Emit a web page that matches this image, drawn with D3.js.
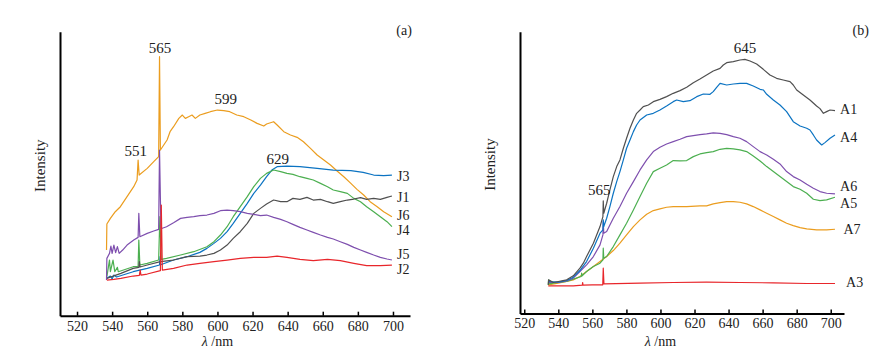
<!DOCTYPE html>
<html><head><meta charset="utf-8">
<script src="https://cdn.jsdelivr.net/npm/d3@7"></script>
<style>
html,body{margin:0;padding:0;background:#fff;}
svg{display:block;font-family:"Liberation Serif","Times New Roman",serif;}
</style></head>
<body>
<svg id="chart" width="887" height="362"></svg>
<script>
// ---------- DATA (wavelength nm, relative intensity) ----------
const xTicks = [520, 540, 560, 580, 600, 620, 640, 660, 680, 700];

// Panel (a)
const J6 = [[536.8,19.7],[537,27.5],[539,29.2],[541.8,31.2],[544.7,32.7],[548.5,35.7],[552.3,38.7],[554.2,40.7],[554.8,46.7],[555.4,42.2],[560,44.2],[563.7,46.2],[566.5,47.7],[567,77.7],[567.5,49.7],[571.3,52.7],[573,55.2],[575,56.7],[578,59.2],[580,60.2],[581.7,59.2],[583.6,59.7],[585.5,60.2],[587.4,59.2],[590,60.2],[593,60.7],[596,61.2],[600,61.7],[603.6,61.5],[607,61.2],[611,60.2],[615,59.7],[619,58.7],[622.6,57.7],[626.4,56.9],[628,57.5],[632,58.2],[634,57.2],[637.8,55.2],[641.6,54.2],[645.4,53.5],[649,52.2],[653,50.2],[656.8,48.2],[660.6,46.7],[664.4,45.2],[668,43.5],[672,41.7],[676,39.7],[679.5,37.9],[683.3,36.2],[687,34.2],[691,32.7],[694.7,31.2],[699.4,29.7]];
const J3 = [[537,11.2],[539,11.9],[540,11.0],[541,12.2],[542.5,11.6],[552,13.2],[560,14.2],[567,15.2],[567.3,17.7],[567.7,15.3],[575,16.7],[582.7,17.7],[590,19.0],[594,20.2],[598,21.7],[601.7,23.2],[605.5,25.2],[609,27.7],[613,30.7],[617,33.7],[620.7,36.7],[624.5,39.2],[628,41.7],[631,43.7],[634,44.7],[639.6,44.9],[647,44.7],[656.8,44.2],[666,43.7],[676,43.5],[683,43.0],[689,42.2],[694.7,42.0],[699.4,42.2]];
const J4 = [[537,11.7],[538.5,16.7],[539,13.2],[540.5,16.7],[541.5,13.2],[543,14.5],[543.5,13.2],[552,14.7],[554.8,14.7],[555.2,22.7],[555.8,15.2],[560,15.7],[566.5,16.7],[567.2,29.7],[568,16.9],[571,17.2],[579,18.2],[586.5,19.2],[594,20.7],[598,22.2],[601.7,24.2],[605.5,26.7],[609,29.7],[613,32.7],[617,35.7],[620.7,38.7],[624.5,41.2],[628,42.7],[632,43.7],[636,43.2],[639.6,42.7],[643,42.4],[647,41.7],[651,41.2],[654.6,40.7],[658.7,39.7],[662.7,38.7],[666,37.7],[670,37.2],[674,36.7],[677.7,35.2],[681.5,34.2],[685,32.7],[689,31.2],[692.8,29.7],[696.6,28.2],[699.4,26.7]];
const J1 = [[537,11.2],[545,12.7],[552,14.2],[555.2,14.5],[555.5,16.2],[555.9,14.6],[560,15.2],[567.5,16.2],[575,16.7],[582.7,17.7],[590,17.9],[594,18.2],[598,18.7],[601.7,19.7],[605.5,21.2],[609,23.2],[613,25.2],[617,27.7],[620.7,30.7],[624.5,32.2],[628,33.5],[632,34.7],[636,34.2],[639.6,34.2],[643,35.2],[647,34.9],[651,35.5],[654.6,34.7],[658.7,34.9],[662.7,34.2],[666,33.7],[670,34.2],[674,34.7],[677.7,35.0],[681.5,35.4],[685,34.9],[689,35.2],[692.8,34.9],[696.6,35.5],[699.4,35.9]];
const J5 = [[536.8,10.7],[537,17.2],[538.5,18.7],[539.3,20.9],[540,18.7],[541,21.2],[542,18.9],[543,20.7],[544,18.7],[546,19.7],[548.5,21.2],[552.3,22.7],[554.8,23.5],[555.2,30.7],[555.8,23.7],[560,24.7],[563.7,25.4],[566.5,25.9],[567,49.7],[567.8,26.1],[571,26.7],[575,27.9],[579,29.2],[582.7,29.5],[586.5,29.7],[590,30.0],[594,30.2],[598,30.7],[601.7,31.5],[605.5,31.7],[609,31.5],[613,31.2],[617,30.7],[620.7,30.4],[624.5,30.0],[628,30.2],[632,29.5],[636,28.9],[639.6,28.2],[643,27.4],[647,26.5],[651,25.7],[654.6,25.0],[658.7,24.2],[662.7,23.5],[666,23.0],[670,22.2],[674,21.4],[677.7,20.5],[681.5,19.7],[685,19.0],[689,18.2],[692.8,17.5],[696.6,17.0],[699.4,16.7]];
const J2 = [[537,10.7],[541,10.9],[545,11.2],[552,11.9],[555.5,12.1],[556,13.7],[556.4,12.2],[560,12.5],[567.5,13.5],[568,33.2],[568.6,13.7],[575,14.2],[582.7,15.2],[590,15.7],[598,16.2],[605.5,16.7],[613,17.2],[620.7,17.5],[628,17.5],[634,17.9],[639.6,17.5],[647,16.9],[654.6,16.5],[662.7,16.9],[670,16.5],[677.7,15.7],[685,15.0],[692.8,15.0],[699.4,15.2]];

// Panel (b)
const A1 = [[534.1,8.6],[534.3,10.1],[537.1,9.3],[540,9.6],[544.9,10.1],[548.8,11.3],[552.7,13.6],[554.7,15.1],[556.6,17.1],[560.6,21.1],[564.5,26.1],[566.2,29.1],[566.4,33.8],[566.7,30.1],[568.4,33.1],[570.3,37.1],[572.3,41.1],[574.3,44.1],[576.2,46.1],[578.2,49.6],[580.1,52.6],[582.1,55.6],[584.1,58.1],[586,60.1],[588,61.1],[589.9,62.1],[592.9,62.6],[595.8,63.6],[599.7,64.3],[603.6,65.1],[607.5,66.1],[611.5,66.9],[615.4,67.9],[619.3,69.3],[623.2,70.4],[627.1,71.6],[631,72.8],[635,73.6],[636.9,74.6],[638.9,75.3],[642.8,75.6],[646.7,76.1],[649.6,76.3],[652.6,75.8],[656.5,74.9],[660.4,73.3],[664.3,71.6],[668.2,70.6],[672.1,70.1],[676.1,69.6],[678,68.6],[680,67.1],[683.9,65.6],[687.8,64.1],[691.7,62.3],[693.7,61.5],[695.7,60.1],[697.6,60.6],[699.6,61.1],[702.5,60.9]];
const A4 = [[534.1,9.6],[540,9.4],[544.9,9.9],[548.8,10.9],[552.7,12.9],[556.6,15.6],[560.6,19.6],[564.5,24.1],[566.2,25.1],[566.4,28.1],[566.7,26.1],[568.4,28.6],[570.3,32.1],[572.3,36.1],[574.3,39.6],[576.2,42.6],[578.2,46.1],[580.1,49.6],[582.1,52.1],[584.1,54.6],[586,56.6],[588,58.1],[591.9,59.6],[595.8,60.1],[599.7,61.1],[603.6,62.3],[607.5,63.6],[609.5,64.1],[613.4,63.6],[617.3,63.9],[621.3,65.1],[625.2,65.9],[629.1,65.8],[631,66.6],[633,67.9],[635,69.1],[638.9,68.6],[642.8,68.9],[646.7,69.1],[650.6,69.1],[654.5,68.3],[658.5,67.3],[660.4,67.1],[662.4,65.8],[666.3,64.1],[670.2,62.6],[674.1,60.6],[678,57.6],[682,56.3],[685.9,55.6],[687.8,55.1],[689.8,53.6],[691.7,52.1],[694.7,50.6],[696.6,51.3],[699.6,52.6],[702.5,53.6]];
const A6 = [[534.1,9.3],[540,9.3],[544.9,9.8],[548.8,10.6],[552.7,12.6],[556.6,14.6],[560.6,17.1],[564.5,20.6],[566.2,23.6],[566.4,27.6],[566.7,24.1],[568.4,24.6],[570.3,26.6],[572.3,28.6],[576.2,32.1],[580.1,36.1],[584.1,39.6],[588,43.1],[591.9,46.1],[595.8,48.6],[599.7,49.9],[603.6,50.9],[607.5,51.6],[611.5,52.3],[615.4,53.1],[619.3,53.4],[623.2,53.7],[627.1,53.9],[631,54.2],[635,54.1],[638.9,53.7],[642.8,53.1],[646.7,52.6],[650.6,51.6],[654.5,50.1],[658.5,48.6],[662.4,47.6],[666.3,46.3],[670.2,44.9],[674.1,42.6],[678,41.1],[682,40.1],[685.9,38.8],[689.8,37.6],[693.7,36.6],[697.6,36.1],[702.5,35.9]];
const A5 = [[534.1,8.6],[534.3,10.1],[535,8.9],[537.1,9.1],[540,9.3],[544.9,9.6],[548.8,10.3],[553.5,11.1],[553.7,12.1],[554,11.3],[556.6,12.6],[560.6,14.1],[564.5,15.1],[566.2,16.1],[566.4,19.6],[566.7,16.6],[568.4,17.1],[572.3,20.1],[576.2,23.6],[580.1,27.1],[584.1,31.1],[588,35.1],[591.9,39.1],[595.8,42.6],[599.7,43.6],[603.6,44.6],[607.5,45.9],[611.5,45.8],[615.4,45.9],[619.3,47.1],[623.2,47.9],[627.1,48.3],[631,48.6],[635,49.3],[638.9,49.6],[642.8,49.4],[646.7,49.1],[650.6,48.6],[654.5,47.3],[658.5,45.8],[662.4,44.1],[666.3,42.6],[670.2,41.1],[674.1,39.6],[678,38.1],[682,37.3],[685.9,36.1],[689.8,34.3],[693.7,33.9],[697.6,34.1],[702.5,34.9]];
const A7 = [[534.1,8.6],[540,9.1],[544.9,9.6],[548.8,10.1],[552.7,11.1],[556.6,12.6],[560.6,14.1],[564.5,15.6],[568.4,17.1],[572.3,18.9],[576.2,21.1],[580.1,23.6],[584.1,26.1],[588,28.1],[591.9,29.8],[595.8,30.9],[599.7,31.4],[603.6,31.9],[607.5,32.1],[615.4,32.1],[623.2,32.3],[627.1,32.3],[631,32.9],[635,33.3],[638.9,33.6],[642.8,33.6],[646.7,33.4],[650.6,32.9],[654.5,32.1],[658.5,31.1],[662.4,30.1],[666.3,29.1],[670.2,28.1],[674.1,27.1],[678,26.4],[682,25.8],[685.9,25.4],[691.7,25.1],[697.6,25.1],[702.5,25.3]];
const A3 = [[534.1,8.3],[540,8.3],[548.8,8.3],[554.1,8.5],[554.3,9.3],[554.5,8.5],[560,8.6],[566.1,8.6],[566.4,13.6],[566.8,8.9],[588,9.1],[607.5,9.3],[627,9.4],[646.7,9.3],[666.3,9.2],[685.9,9.0],[702.5,9.0]];

// Labels: [text, wavelength, intensity]
const seriesLabelsA = [["J3",702.3,41.7],["J1",702.3,35.5],["J6",702.3,30.0],["J4",702.3,25.6],["J5",702.3,18.3],["J2",702.3,13.9]];
const peakLabelsA = [["565",567.3,80.3],["599",604.7,65.0],["551",553.4,49.4],["629",634.3,47.0]];
const seriesLabelsB = [["A1",705.5,61.1],["A4",705.5,52.7],["A6",705.5,38.2],["A5",705.5,33.0],["A7",707.5,25.1],["A3",709.0,9.2]];
const peakLabelsB = [["645",649.7,79.7],["565",564.0,37.1]];

const colors = {gray:"#505050", red:"#e8262b", blue:"#0b73c2", green:"#4caf50", purple:"#7e4fae", orange:"#eb9d1f"};

const panels = [
  {id:"(a)", xDomain:[510.3,709.7], xRange:[60,410], yDomain:[0,85.2], yRange:[315.7,31.7],
   series:[[J6,colors.orange],[J3,colors.blue],[J4,colors.green],[J1,colors.gray],[J5,colors.purple],[J2,colors.red]],
   seriesLabels:seriesLabelsA, peakLabels:peakLabelsA, tagPos:[706.3,85.5], yTitleX:39.5},
  {id:"(b)", xDomain:[517.5,707.8], xRange:[520,844], yDomain:[0,84.6], yRange:[313.5,31.7],
   series:[[A3,colors.red],[A7,colors.orange],[A5,colors.green],[A6,colors.purple],[A4,colors.blue],[A1,colors.gray]],
   seriesLabels:seriesLabelsB, peakLabels:peakLabelsB, tagPos:[717.6,84.9], yTitleX:490}
];

const svg = d3.select("#chart");

panels.forEach(p => {
  const x = d3.scaleLinear().domain(p.xDomain).range(p.xRange);
  const y = d3.scaleLinear().domain(p.yDomain).range(p.yRange);
  const g = svg.append("g");

  const line = d3.line().x(d => x(d[0])).y(d => y(d[1]));
  p.series.forEach(([data, c]) => {
    g.append("path").datum(data).attr("d", line)
      .attr("fill","none").attr("stroke",c).attr("stroke-width",1.2).attr("stroke-linejoin","round");
  });

  // x axis
  const xa = g.append("g").attr("transform",`translate(0,${p.yRange[0]})`)
    .call(d3.axisBottom(x).tickValues(xTicks).tickFormat(d3.format("d")).tickSizeInner(-4).tickSizeOuter(0).tickPadding(5));
  xa.select(".domain").attr("stroke","#000").attr("stroke-width",2);
  xa.selectAll(".tick line").attr("stroke","#000").attr("stroke-width",1.5);
  xa.selectAll(".tick text").attr("font-family","Liberation Serif").attr("font-size",14).attr("fill","#222");

  // y axis (no ticks)
  const ya = g.append("g").attr("transform",`translate(${p.xRange[0]},0)`)
    .call(d3.axisLeft(y).tickValues([]).tickSizeOuter(0));
  ya.select(".domain").attr("stroke","#000").attr("stroke-width",2);

  // axis titles
  const xt = g.append("text").attr("x", x(600)).attr("y", 346)
    .attr("text-anchor","middle").attr("font-size",14).attr("fill","#222");
  xt.append("tspan").attr("font-style","italic").text("λ");
  xt.append("tspan").text(" /nm");

  g.append("text").attr("transform",`translate(${p.yTitleX},${(p.yRange[0]+p.yRange[1])/2 - 8}) rotate(-90)`)
    .attr("text-anchor","middle").attr("dominant-baseline","central")
    .attr("font-size",15).attr("fill","#222").text("Intensity");

  // labels
  g.selectAll(".sl").data(p.seriesLabels).enter().append("text")
    .attr("x", d => x(d[1])).attr("y", d => y(d[2]))
    .attr("dominant-baseline","central").attr("font-size",14).attr("fill","#222").text(d => d[0]);
  g.selectAll(".pl").data(p.peakLabels).enter().append("text")
    .attr("x", d => x(d[1])).attr("y", d => y(d[2]))
    .attr("text-anchor","middle").attr("dominant-baseline","central").attr("font-size",15).attr("fill","#222").text(d => d[0]);
  g.append("text").attr("x", x(p.tagPos[0])).attr("y", y(p.tagPos[1]))
    .attr("text-anchor","middle").attr("dominant-baseline","central").attr("font-size",14).attr("fill","#222").text(p.id);
});
</script>
</body></html>
